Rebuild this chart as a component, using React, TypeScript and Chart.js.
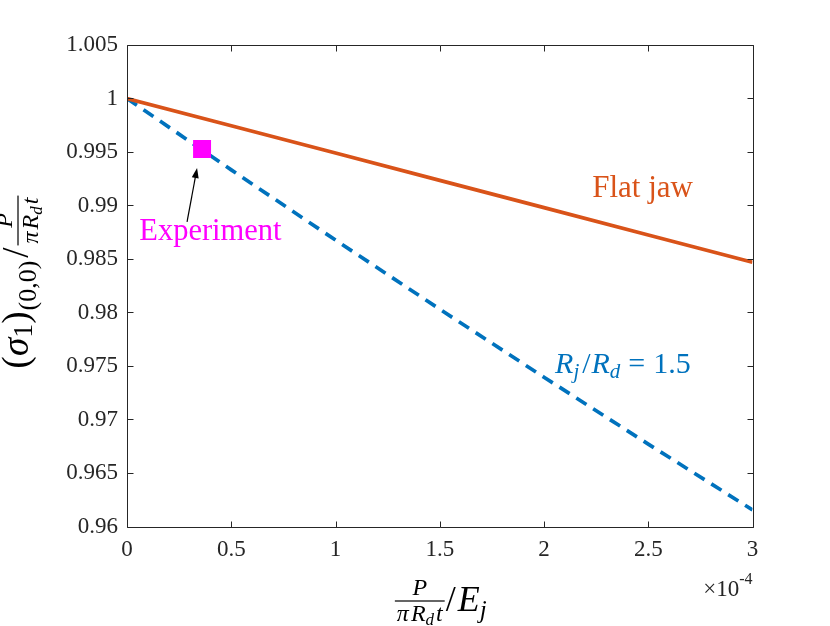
import React, { useEffect, useRef } from 'react';
import { Chart, registerables } from 'chart.js';

Chart.register(...registerables);

// ---- data (x in units of 1e-4) ----
const xValues = [0, 0.5, 1, 1.5, 2, 2.5, 3];
const flatJaw = [1, 0.99745, 0.9949, 0.99235, 0.9898, 0.98725, 0.9847];
const ratio15 = [1, 0.99333, 0.98677, 0.98031, 0.97395, 0.9677, 0.96155];
const experimentX = [0.36];
const experimentY = [0.99528];

const xTicks = [0, 0.5, 1, 1.5, 2, 2.5, 3];
const xTickLabels = ['0', '0.5', '1', '1.5', '2', '2.5', '3'];
const yTicks = [0.96, 0.965, 0.97, 0.975, 0.98, 0.985, 0.99, 0.995, 1, 1.005];
const yTickLabels = ['0.96', '0.965', '0.97', '0.975', '0.98', '0.985', '0.99', '0.995', '1', '1.005'];

// annotation anchors in data units
const flatJawLabel = { x: 2.473, y: 0.9908 };
const experimentLabel = { x: 0.4, y: 0.98678 };
const ratioLabel = { x: 2.053, y: 0.97435 };
const arrowTail = { x: 0.288, y: 0.98846 };
const arrowHead = { x: 0.336, y: 0.9935 };

const ORANGE = '#D95319';
const BLUE = '#0072BD';
const MAGENTA = '#FF00FF';
const AXIS = '#262626';
const SERIF = "'Liberation Serif', 'Times New Roman', serif";

type TextRun = { kind: 'text'; text: string; font: string; dy?: number; before?: number; after?: number };
type FracRun = { kind: 'frac'; num: TextRun[]; den: TextRun[]; pad: number; axis: number; numDy: number; denDy: number; before?: number; after?: number };
type Run = TextRun | FracRun;

const t = (text: string, size: number, italic = false, dy = 0, before = 0, after = 0): TextRun => ({
  kind: 'text',
  text,
  font: `${italic ? 'italic ' : ''}${size}px ${SERIF}`,
  dy,
  before,
  after,
});

function runsWidth(ctx: CanvasRenderingContext2D, runs: Run[]): number {
  let w = 0;
  for (const r of runs) {
    w += (r.before || 0) + (r.after || 0);
    if (r.kind === 'text') {
      ctx.font = r.font;
      w += ctx.measureText(r.text).width;
    } else {
      w += Math.max(runsWidth(ctx, r.num), runsWidth(ctx, r.den)) + 2 * r.pad;
    }
  }
  return w;
}

function drawRuns(ctx: CanvasRenderingContext2D, runs: Run[], x: number, y: number) {
  let cx = x;
  for (const r of runs) {
    cx += r.before || 0;
    if (r.kind === 'text') {
      ctx.font = r.font;
      ctx.fillText(r.text, cx, y + (r.dy || 0));
      cx += ctx.measureText(r.text).width;
    } else {
      const nw = runsWidth(ctx, r.num);
      const dw = runsWidth(ctx, r.den);
      const w = Math.max(nw, dw) + 2 * r.pad;
      drawRuns(ctx, r.num, cx + (w - nw) / 2, y - r.numDy);
      drawRuns(ctx, r.den, cx + (w - dw) / 2, y + r.denDy);
      ctx.fillRect(cx, y - r.axis - 0.6, w, 1.2);
      cx += w;
    }
    cx += r.after || 0;
  }
}

function drawCentered(ctx: CanvasRenderingContext2D, runs: Run[], cx: number, y: number) {
  const w = runsWidth(ctx, runs);
  drawRuns(ctx, runs, cx - w / 2, y);
}

const fracP = (): FracRun => ({
  kind: 'frac',
  num: [t('P', 24, true)],
  den: [t('π', 24, true), t('R', 24, true, 0, 2), t('d', 17, true, 4, 0, 1), t('t', 24, true, 0, 1)],
  pad: 2,
  axis: 10,
  numDy: 16,
  denDy: 10,
});

const decorPlugin = {
  id: 'decor',
  afterDatasetsDraw(chart: any) {
    const { ctx, chartArea: a, scales } = chart;
    const xs = scales.x;
    const ys = scales.y;
    ctx.save();
    ctx.strokeStyle = AXIS;
    ctx.lineWidth = 1;
    const L = Math.round(a.left) + 0.5;
    const R = Math.round(a.right) + 0.5;
    const T = Math.round(a.top) + 0.5;
    const B = Math.round(a.bottom) + 0.5;
    ctx.beginPath();
    ctx.rect(L, T, R - L, B - T);
    ctx.stroke();
    const tl = 6;
    ctx.beginPath();
    for (const v of xTicks) {
      const px = Math.round(xs.getPixelForValue(v)) + 0.5;
      ctx.moveTo(px, B);
      ctx.lineTo(px, B - tl);
      ctx.moveTo(px, T);
      ctx.lineTo(px, T + tl);
    }
    for (const v of yTicks) {
      const py = Math.round(ys.getPixelForValue(v)) + 0.5;
      ctx.moveTo(L, py);
      ctx.lineTo(L + tl, py);
      ctx.moveTo(R, py);
      ctx.lineTo(R - tl, py);
    }
    ctx.stroke();
    ctx.restore();
  },
  afterDraw(chart: any) {
    const { ctx, chartArea: a, scales } = chart;
    const xs = scales.x;
    const ys = scales.y;
    ctx.save();
    ctx.textBaseline = 'alphabetic';
    ctx.textAlign = 'left';

    ctx.fillStyle = ORANGE;
    drawCentered(ctx, [t('Flat jaw', 31)], xs.getPixelForValue(flatJawLabel.x), ys.getPixelForValue(flatJawLabel.y));

    ctx.fillStyle = MAGENTA;
    drawCentered(ctx, [t('Experiment', 30.5)], xs.getPixelForValue(experimentLabel.x), ys.getPixelForValue(experimentLabel.y));

    ctx.fillStyle = BLUE;
    drawRuns(
      ctx,
      [
        t('R', 30, true),
        t('j', 21, true, 5, 0, 2),
        t('/', 30, false, 0, 1, 1),
        t('R', 30, true),
        t('d', 21, true, 5, 0, 8),
        t('=', 30, false, 0, 0, 8),
        t('1.5', 30),
      ],
      xs.getPixelForValue(ratioLabel.x),
      ys.getPixelForValue(ratioLabel.y)
    );

    // arrow
    const x0 = xs.getPixelForValue(arrowTail.x);
    const y0 = ys.getPixelForValue(arrowTail.y);
    const x1 = xs.getPixelForValue(arrowHead.x);
    const y1 = ys.getPixelForValue(arrowHead.y);
    const ang = Math.atan2(y1 - y0, x1 - x0);
    const hl = 10;
    const hw = 3.5;
    ctx.strokeStyle = '#000';
    ctx.fillStyle = '#000';
    ctx.lineWidth = 1.2;
    ctx.beginPath();
    ctx.moveTo(x0, y0);
    ctx.lineTo(x1 - Math.cos(ang) * hl * 0.8, y1 - Math.sin(ang) * hl * 0.8);
    ctx.stroke();
    ctx.beginPath();
    ctx.moveTo(x1, y1);
    ctx.lineTo(x1 - Math.cos(ang) * hl - Math.sin(ang) * hw, y1 - Math.sin(ang) * hl + Math.cos(ang) * hw);
    ctx.lineTo(x1 - Math.cos(ang) * hl + Math.sin(ang) * hw, y1 - Math.sin(ang) * hl - Math.cos(ang) * hw);
    ctx.closePath();
    ctx.fill();

    // x-axis title
    ctx.fillStyle = '#000';
    const xTitle: Run[] = [fracP(), t('/', 36, false, 0, 1, 2), t('E', 36, true), t('j', 25, true, 7)];
    drawCentered(ctx, xTitle, (a.left + a.right) / 2 + 1, 611);

    // exponent label
    ctx.fillStyle = AXIS;
    ctx.font = `23px ${SERIF}`;
    const expW = ctx.measureText('×10').width;
    ctx.font = `16px ${SERIF}`;
    const supW = ctx.measureText('-4').width;
    const ex = a.right - expW - supW;
    ctx.font = `23px ${SERIF}`;
    ctx.fillText('×10', ex, 596);
    ctx.font = `16px ${SERIF}`;
    ctx.fillText('-4', ex + expW, 584);

    // y-axis title (rotated)
    ctx.fillStyle = '#000';
    ctx.save();
    ctx.translate(28, 282);
    ctx.rotate(-Math.PI / 2);
    const yTitle: Run[] = [
      t('(', 37),
      t('σ', 37, true),
      t('1', 28, false, 4),
      t(')', 37),
      t('(0,0)', 26, false, 8, 1),
      t('/', 37, false, 0, 3, 2),
      fracP(),
    ];
    drawCentered(ctx, yTitle, 0, 0);
    ctx.restore();

    ctx.restore();
  },
};

export default function App() {
  const canvasRef = useRef<HTMLCanvasElement | null>(null);

  useEffect(() => {
    const canvas = canvasRef.current;
    if (!canvas) return;
    const tickFont = { family: SERIF, size: 23 };
    const chart = new Chart(canvas, {
      type: 'line',
      data: {
        datasets: [
          {
            label: 'Experiment',
            data: experimentX.map((x, i) => ({ x, y: experimentY[i] })),
            showLine: false,
            pointStyle: 'rect',
            pointRadius: 12.7,
            pointBackgroundColor: MAGENTA,
            pointBorderColor: MAGENTA,
            pointBorderWidth: 0,
            backgroundColor: MAGENTA,
            borderColor: MAGENTA,
            order: 0,
          },
          {
            label: 'Flat jaw',
            data: xValues.map((x, i) => ({ x, y: flatJaw[i] })),
            borderColor: ORANGE,
            borderWidth: 3.7,
            pointRadius: 0,
            fill: false,
            tension: 0,
            order: 1,
          },
          {
            label: 'Rj/Rd = 1.5',
            data: xValues.map((x, i) => ({ x, y: ratio15[i] })),
            borderColor: BLUE,
            borderWidth: 3.7,
            borderDash: [12, 8],
            pointRadius: 0,
            fill: false,
            tension: 0,
            order: 2,
          },
        ],
      },
      options: {
        responsive: false,
        animation: false,
        devicePixelRatio: 1,
        layout: { padding: { left: 0, top: 45, right: 77.5, bottom: 0 } },
        plugins: { legend: { display: false }, tooltip: { enabled: false } },
        scales: {
          x: {
            type: 'linear',
            min: 0,
            max: 3,
            afterBuildTicks: (s: any) => {
              s.ticks = xTicks.map((v) => ({ value: v }));
            },
            afterFit: (s: any) => {
              s.height = 99.5;
            },
            grid: { display: false, drawTicks: false },
            border: { display: false },
            ticks: {
              padding: 10,
              font: tickFont,
              color: AXIS,
              maxRotation: 0,
              autoSkip: false,
              callback: (_v: any, i: number) => xTickLabels[i],
            },
          },
          y: {
            type: 'linear',
            min: 0.96,
            max: 1.005,
            afterBuildTicks: (s: any) => {
              s.ticks = yTicks.map((v) => ({ value: v }));
            },
            afterFit: (s: any) => {
              s.width = 127;
            },
            grid: { display: false, drawTicks: false },
            border: { display: false },
            ticks: {
              padding: 9,
              font: tickFont,
              color: AXIS,
              autoSkip: false,
              callback: (_v: any, i: number) => yTickLabels[i],
            },
          },
        },
      },
      plugins: [decorPlugin],
    } as any);
    return () => chart.destroy();
  }, []);

  return (
    <div style={{ position: 'absolute', left: 0, top: 0, width: 830, height: 626, background: '#fff' }}>
      <canvas ref={canvasRef} width={830} height={626} style={{ display: 'block' }} />
    </div>
  );
}
